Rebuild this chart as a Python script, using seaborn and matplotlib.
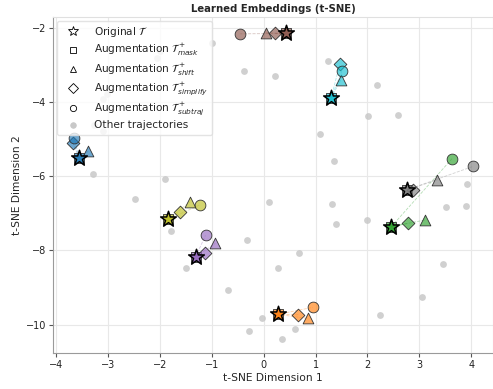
import numpy as np
import pandas as pd
import seaborn as sns
import matplotlib.pyplot as plt
from matplotlib.lines import Line2D
from matplotlib.colors import to_rgba

# gray background embeddings
other_x = [-0.99, -0.37, 0.21, 1.24, 2.19, 2.02, 2.58, -1.99, -2.06, -3.01, -3.09,
           -3.27, -3.10, -3.28, -2.47, -1.90, -1.79, -0.33, -1.50, 0.68, 0.28, -0.69,
           -0.03, -0.28, 0.61, 0.35, 2.25, 1.99, 3.51, 3.90, 3.92, 3.45, 3.06, 1.08,
           1.35, 0.11, 1.32, 1.40]
other_y = [-2.41, -3.17, -3.31, -2.89, -3.56, -4.38, -4.35, -2.62, -2.82, -3.78, -3.92,
           -4.61, -4.79, -5.95, -6.62, -6.07, -7.47, -7.72, -8.48, -8.08, -8.46, -9.06,
           -9.83, -10.18, -10.11, -10.37, -9.74, -7.17, -6.82, -6.81, -6.22, -8.36, -9.24, -4.86,
           -5.58, -6.69, -6.74, -7.30]

# highlighted trajectories: original + 4 augmentations
groups = ['blue', 'orange', 'green', 'purple', 'brown', 'gray', 'olive', 'cyan']
colors = ['tab:blue', 'tab:orange', 'tab:green', 'tab:purple', 'tab:brown', 'tab:gray',
          'tab:olive', 'tab:cyan']
orig_x = [-3.56, 0.27, 2.46, -1.31, 0.44, 2.76, -1.84, 1.30]
orig_y = [-5.50, -9.72, -7.36, -8.17, -2.16, -6.37, -7.16, -3.90]
mask_x = [-3.56, 0.27, 2.46, -1.31, 0.44, 2.76, -1.84, 1.30]
mask_y = [-5.50, -9.72, -7.36, -8.17, -2.16, -6.37, -7.16, -3.90]
shift_x = [-3.38, 0.86, 3.11, -0.93, 0.04, 3.35, -1.42, 1.49]
shift_y = [-5.33, -9.83, -7.18, -7.81, -2.14, -6.10, -6.69, -3.40]
simp_x = [-3.67, 0.67, 2.79, -1.13, 0.21, 2.88, -1.62, 1.47]
simp_y = [-5.12, -9.73, -7.27, -8.08, -2.16, -6.37, -6.96, -2.97]
sub_x = [-3.65, 0.95, 3.63, -1.12, -0.45, 4.03, -1.22, 1.51]
sub_y = [-4.98, -9.53, -5.53, -7.59, -2.17, -5.74, -6.77, -3.16]

sns.set_style("whitegrid")
plt.rcParams.update({
    'axes.edgecolor': '#9a9a9a',
    'grid.color': '#e8e8e8',
    'xtick.bottom': True, 'ytick.left': True,
    'xtick.major.size': 3, 'ytick.major.size': 3,
    'xtick.color': '#555555', 'ytick.color': '#555555',
    'xtick.labelcolor': '#222222', 'ytick.labelcolor': '#222222',
})

fig, ax = plt.subplots(figsize=(4.93, 3.89), dpi=100)
fig.subplots_adjust(left=0.1075, right=1.0, bottom=0.0925, top=0.956)

sns.scatterplot(x=other_x, y=other_y, color='#c8c8c8', s=24, linewidth=0,
                alpha=0.85, ax=ax, zorder=1)

aug = [(mask_x, mask_y, 's'), (shift_x, shift_y, '^'), (simp_x, simp_y, 'D'), (sub_x, sub_y, 'o')]
for i, g in enumerate(groups):
    c = colors[i]
    for xs, ys, m in aug:
        ax.plot([orig_x[i], xs[i]], [orig_y[i], ys[i]], ls='--', lw=0.6,
                color=c, alpha=0.35, zorder=2)
    for xs, ys, m in aug:
        size = 42 if m == 'D' else 60
        ax.scatter(xs[i], ys[i], marker=m, s=size, facecolor=to_rgba(c, 0.65),
                   edgecolor='#333333', linewidth=0.6, zorder=3)
    ax.scatter(orig_x[i], orig_y[i], marker='*', s=140, facecolor=to_rgba(c, 0.85),
               edgecolor='black', linewidth=1.1, zorder=4)

ax.set_xlim(-4.06, 4.42)
ax.set_ylim(-10.76, -1.72)
ax.set_xticks(np.arange(-4, 5, 1))
ax.set_yticks([-10, -8, -6, -4, -2])
ax.tick_params(labelsize=7, pad=2)
for s in ['top', 'right']:
    ax.spines[s].set_color('#e0e0e0')
ax.set_xlabel('t-SNE Dimension 1', fontsize=7.7, labelpad=2)
ax.set_ylabel('t-SNE Dimension 2', fontsize=7.7, labelpad=3)
ax.set_title('Learned Embeddings (t-SNE)', fontsize=7.3, fontweight='bold', pad=4)

def h(m, ms=5.5, fc='white', ec='black'):
    return Line2D([], [], marker=m, ls='None', markersize=ms, markerfacecolor=fc,
                  markeredgecolor=ec, markeredgewidth=0.6)

handles = [h('*', 7), h('s', 4.5), h('^', 4.5), h('D', 5), h('o', 4.5),
           h('o', 4, fc='#c8c8c8', ec='#c8c8c8')]
labels = [r'Original $\mathcal{T}$',
          r'Augmentation $\mathcal{T}^+_{mask}$',
          r'Augmentation $\mathcal{T}^+_{shift}$',
          r'Augmentation $\mathcal{T}^+_{simplify}$',
          r'Augmentation $\mathcal{T}^+_{subtraj}$',
          'Other trajectories']
ax.legend(handles, labels, loc='upper left', fontsize=7.6, labelspacing=0.3,
          frameon=True, framealpha=0.8, edgecolor='#dddddd', borderpad=0.4,
          handlelength=2.3, handletextpad=0.8, borderaxespad=0.35)

fig.savefig('out.png', dpi=100)
